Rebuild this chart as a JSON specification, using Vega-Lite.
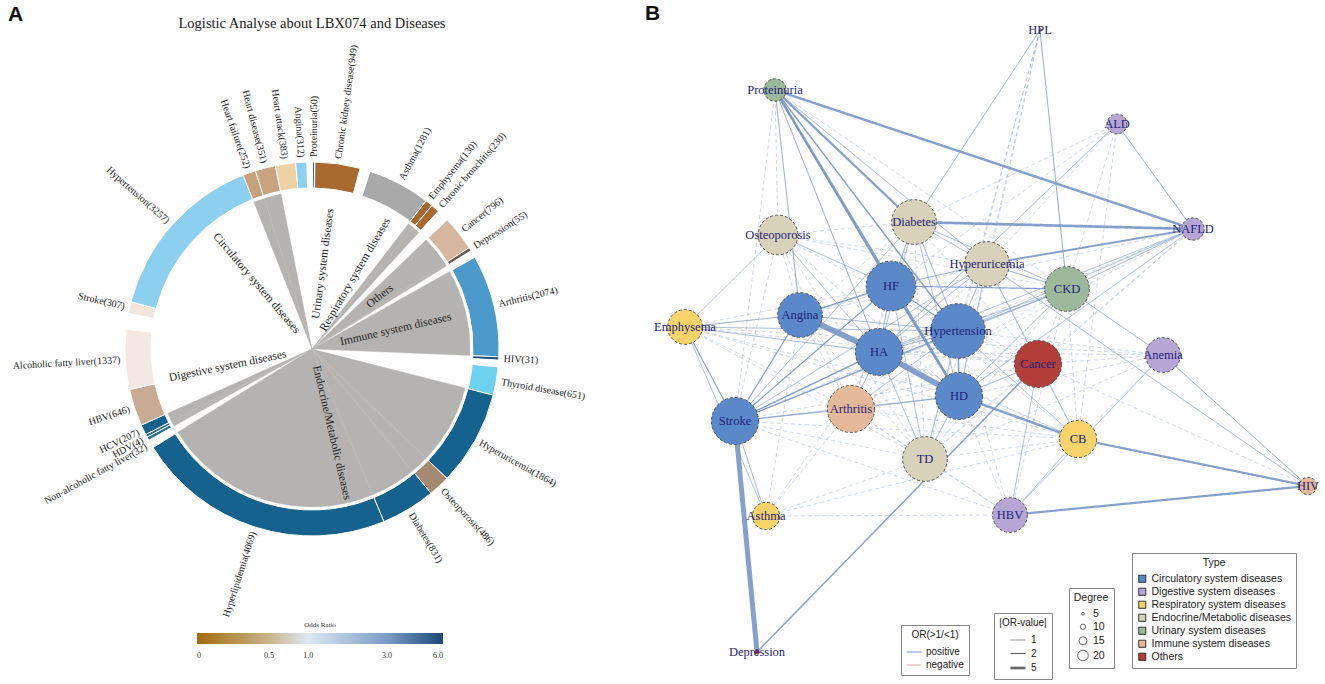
{
  "$schema": "https://vega.github.io/schema/vega-lite/v6.json",
  "padding": {"left": 5, "right": 5, "top": 3, "bottom": 5},
  "spacing": 20,
  "title": {"text": "A", "anchor": "start", "font": "Liberation Sans", "fontSize": 21, "fontWeight": "bold", "color": "#111", "offset": -22, "dx": 3},
  "resolve": {
    "scale": {"fill": "independent", "color": "independent", "stroke": "independent", "strokeWidth": "independent", "strokeDash": "independent", "size": "independent", "theta": "independent", "opacity": "independent"},
    "legend": {"fill": "independent", "color": "independent", "stroke": "independent", "strokeWidth": "independent", "strokeDash": "independent", "size": "independent", "opacity": "independent"}
  },
  "datasets": {
    "diseases": [
      {"name": "Stroke", "n": 307, "cat": "Circulatory system diseases", "start": 281.0, "end": 284.6, "OR": 1.1, "sig": "no"},
      {"name": "Hypertension", "n": 3257, "cat": "Circulatory system diseases", "start": 284.6, "end": 338.4, "OR": 2.0, "sig": "no"},
      {"name": "Heart failure", "n": 252, "cat": "Circulatory system diseases", "start": 338.4, "end": 342.4, "OR": 0.6, "sig": "yes"},
      {"name": "Heart disease", "n": 351, "cat": "Circulatory system diseases", "start": 342.4, "end": 348.7, "OR": 0.6, "sig": "yes"},
      {"name": "Heart attack", "n": 383, "cat": "Circulatory system diseases", "start": 348.7, "end": 355.0, "OR": 0.8, "sig": "no"},
      {"name": "Angina", "n": 312, "cat": "Circulatory system diseases", "start": 355.0, "end": 358.4, "OR": 2.0, "sig": "no"},
      {"name": "Proteinuria", "n": 50, "cat": "Urinary system diseases", "start": 0.2, "end": 0.8, "OR": 6.0, "sig": "no"},
      {"name": "Chronic kidney disease", "n": 949, "cat": "Urinary system diseases", "start": 0.9, "end": 14.9, "OR": 0.2, "sig": "no"},
      {"name": "Asthma", "n": 1281, "cat": "Respiratory system diseases", "start": 18.1, "end": 37.6, "OR": 1.0, "sig": "no"},
      {"name": "Emphysema", "n": 130, "cat": "Respiratory system diseases", "start": 37.6, "end": 39.9, "OR": 0.2, "sig": "yes"},
      {"name": "Chronic bronchitis", "n": 230, "cat": "Respiratory system diseases", "start": 39.9, "end": 42.5, "OR": 0.2, "sig": "yes"},
      {"name": "Cancer", "n": 796, "cat": "Others", "start": 46.3, "end": 57.2, "OR": 0.6, "sig": "yes"},
      {"name": "Depression", "n": 55, "cat": "Others", "start": 57.2, "end": 58.3, "OR": 0.3, "sig": "yes"},
      {"name": "Arthritis", "n": 2074, "cat": "Immune system diseases", "start": 60.6, "end": 92.4, "OR": 3.0, "sig": "yes"},
      {"name": "HIV", "n": 31, "cat": "Immune system diseases", "start": 92.4, "end": 93.4, "OR": 6.0, "sig": "no"},
      {"name": "Thyroid disease", "n": 651, "cat": "Endocrine/Metabolic diseases", "start": 95.5, "end": 104.3, "OR": 2.0, "sig": "no"},
      {"name": "Hyperuricemia", "n": 1864, "cat": "Endocrine/Metabolic diseases", "start": 104.3, "end": 133.8, "OR": 5.5, "sig": "yes"},
      {"name": "Osteoporosis", "n": 486, "cat": "Endocrine/Metabolic diseases", "start": 133.8, "end": 140.5, "OR": 0.5, "sig": "yes"},
      {"name": "Diabetes", "n": 831, "cat": "Endocrine/Metabolic diseases", "start": 140.5, "end": 157.4, "OR": 5.5, "sig": "yes"},
      {"name": "Hyperlipidemia", "n": 4069, "cat": "Endocrine/Metabolic diseases", "start": 157.4, "end": 238.2, "OR": 5.5, "sig": "yes"},
      {"name": "Non-alcoholic fatty liver", "n": 32, "cat": "Digestive system diseases", "start": 240.8, "end": 241.9, "OR": 5.5, "sig": "yes"},
      {"name": "HDV", "n": 4, "cat": "Digestive system diseases", "start": 241.9, "end": 242.8, "OR": 5.5, "sig": "yes"},
      {"name": "HCV", "n": 207, "cat": "Digestive system diseases", "start": 242.8, "end": 246.0, "OR": 5.5, "sig": "yes"},
      {"name": "HBV", "n": 646, "cat": "Digestive system diseases", "start": 246.0, "end": 257.5, "OR": 0.7, "sig": "no"},
      {"name": "Alcoholic fatty liver", "n": 1337, "cat": "Digestive system diseases", "start": 257.5, "end": 276.0, "OR": 0.95, "sig": "no"}
    ],
    "nodes": [
      {"id": "HPL", "x": 1040, "y": 28, "type": "Endocrine/Metabolic diseases", "deg": 1},
      {"id": "Proteinuria", "x": 775, "y": 88, "type": "Urinary system diseases", "deg": 9},
      {"id": "ALD", "x": 1117, "y": 122, "type": "Digestive system diseases", "deg": 8},
      {"id": "NAFLD", "x": 1193, "y": 227, "type": "Digestive system diseases", "deg": 9},
      {"id": "Diabetes", "x": 914, "y": 220, "type": "Endocrine/Metabolic diseases", "deg": 18},
      {"id": "Osteoporosis", "x": 778, "y": 233, "type": "Endocrine/Metabolic diseases", "deg": 16},
      {"id": "Hyperuricemia", "x": 987, "y": 262, "type": "Endocrine/Metabolic diseases", "deg": 18},
      {"id": "CKD", "x": 1067, "y": 287, "type": "Urinary system diseases", "deg": 18},
      {"id": "HF", "x": 891, "y": 284, "type": "Circulatory system diseases", "deg": 20},
      {"id": "Angina", "x": 800, "y": 313, "type": "Circulatory system diseases", "deg": 18},
      {"id": "Emphysema", "x": 685, "y": 325, "type": "Respiratory system diseases", "deg": 14},
      {"id": "Hypertension", "x": 958, "y": 329, "type": "Circulatory system diseases", "deg": 22},
      {"id": "HA", "x": 879, "y": 350, "type": "Circulatory system diseases", "deg": 19},
      {"id": "Cancer", "x": 1038, "y": 362, "type": "Others", "deg": 19},
      {"id": "Anemia", "x": 1163, "y": 353, "type": "Digestive system diseases", "deg": 14},
      {"id": "HD", "x": 959, "y": 394, "type": "Circulatory system diseases", "deg": 19},
      {"id": "Stroke", "x": 735, "y": 419, "type": "Circulatory system diseases", "deg": 19},
      {"id": "Arthritis", "x": 851, "y": 407, "type": "Immune system diseases", "deg": 19},
      {"id": "TD", "x": 925, "y": 457, "type": "Endocrine/Metabolic diseases", "deg": 18},
      {"id": "CB", "x": 1078, "y": 437, "type": "Respiratory system diseases", "deg": 15},
      {"id": "HBV", "x": 1010, "y": 513, "type": "Digestive system diseases", "deg": 14},
      {"id": "Asthma", "x": 766, "y": 514, "type": "Respiratory system diseases", "deg": 11},
      {"id": "HIV", "x": 1308, "y": 484, "type": "Immune system diseases", "deg": 7},
      {"id": "Depression", "x": 757, "y": 650, "type": "Others", "deg": 2}
    ],
    "edges": [
      {"s": "HPL", "t": "Hyperuricemia", "w": 1, "sig": "no", "sign": "positive"},
      {"s": "HPL", "t": "HD", "w": 1, "sig": "no", "sign": "positive"},
      {"s": "HPL", "t": "TD", "w": 1, "sig": "no", "sign": "positive"},
      {"s": "HPL", "t": "Hypertension", "w": 1, "sig": "no", "sign": "positive"},
      {"s": "ALD", "t": "HF", "w": 1, "sig": "no", "sign": "positive"},
      {"s": "ALD", "t": "CB", "w": 1, "sig": "no", "sign": "positive"},
      {"s": "ALD", "t": "Diabetes", "w": 1, "sig": "no", "sign": "positive"},
      {"s": "ALD", "t": "Hyperuricemia", "w": 1, "sig": "no", "sign": "positive"},
      {"s": "ALD", "t": "CKD", "w": 1, "sig": "no", "sign": "positive"},
      {"s": "NAFLD", "t": "Cancer", "w": 1, "sig": "no", "sign": "positive"},
      {"s": "NAFLD", "t": "Stroke", "w": 1, "sig": "no", "sign": "positive"},
      {"s": "NAFLD", "t": "TD", "w": 1, "sig": "no", "sign": "positive"},
      {"s": "NAFLD", "t": "Arthritis", "w": 1, "sig": "no", "sign": "positive"},
      {"s": "NAFLD", "t": "Angina", "w": 1, "sig": "no", "sign": "positive"},
      {"s": "Emphysema", "t": "HF", "w": 1, "sig": "no", "sign": "positive"},
      {"s": "Emphysema", "t": "Arthritis", "w": 1, "sig": "no", "sign": "positive"},
      {"s": "Emphysema", "t": "TD", "w": 1, "sig": "no", "sign": "positive"},
      {"s": "Emphysema", "t": "CB", "w": 1, "sig": "no", "sign": "positive"},
      {"s": "Emphysema", "t": "HD", "w": 1, "sig": "no", "sign": "positive"},
      {"s": "Emphysema", "t": "Cancer", "w": 1, "sig": "no", "sign": "positive"},
      {"s": "Emphysema", "t": "Anemia", "w": 1, "sig": "no", "sign": "positive"},
      {"s": "Osteoporosis", "t": "Stroke", "w": 1, "sig": "no", "sign": "positive"},
      {"s": "Osteoporosis", "t": "Angina", "w": 1, "sig": "no", "sign": "positive"},
      {"s": "Osteoporosis", "t": "Hypertension", "w": 1, "sig": "no", "sign": "positive"},
      {"s": "Osteoporosis", "t": "Arthritis", "w": 1, "sig": "no", "sign": "positive"},
      {"s": "Osteoporosis", "t": "CKD", "w": 1, "sig": "no", "sign": "positive"},
      {"s": "Osteoporosis", "t": "TD", "w": 1, "sig": "no", "sign": "positive"},
      {"s": "Osteoporosis", "t": "Hyperuricemia", "w": 1, "sig": "no", "sign": "positive"},
      {"s": "Osteoporosis", "t": "Diabetes", "w": 1, "sig": "no", "sign": "positive"},
      {"s": "Osteoporosis", "t": "HD", "w": 1, "sig": "no", "sign": "positive"},
      {"s": "Diabetes", "t": "Angina", "w": 1, "sig": "no", "sign": "positive"},
      {"s": "Diabetes", "t": "TD", "w": 1, "sig": "no", "sign": "positive"},
      {"s": "Diabetes", "t": "Cancer", "w": 1, "sig": "no", "sign": "positive"},
      {"s": "Diabetes", "t": "Arthritis", "w": 1, "sig": "no", "sign": "positive"},
      {"s": "Hyperuricemia", "t": "Angina", "w": 1, "sig": "no", "sign": "positive"},
      {"s": "Hyperuricemia", "t": "Arthritis", "w": 1, "sig": "no", "sign": "positive"},
      {"s": "Hyperuricemia", "t": "TD", "w": 1, "sig": "no", "sign": "positive"},
      {"s": "Hyperuricemia", "t": "Cancer", "w": 1, "sig": "no", "sign": "positive"},
      {"s": "CKD", "t": "CB", "w": 1, "sig": "no", "sign": "positive"},
      {"s": "CKD", "t": "Cancer", "w": 1, "sig": "no", "sign": "positive"},
      {"s": "CKD", "t": "TD", "w": 1, "sig": "no", "sign": "positive"},
      {"s": "CKD", "t": "Arthritis", "w": 1, "sig": "no", "sign": "positive"},
      {"s": "CKD", "t": "HBV", "w": 1, "sig": "no", "sign": "positive"},
      {"s": "HF", "t": "Arthritis", "w": 1, "sig": "no", "sign": "positive"},
      {"s": "HF", "t": "Cancer", "w": 1, "sig": "no", "sign": "positive"},
      {"s": "HF", "t": "CB", "w": 1, "sig": "no", "sign": "positive"},
      {"s": "Angina", "t": "Arthritis", "w": 1, "sig": "no", "sign": "positive"},
      {"s": "Angina", "t": "TD", "w": 1, "sig": "no", "sign": "positive"},
      {"s": "Angina", "t": "Cancer", "w": 1, "sig": "no", "sign": "positive"},
      {"s": "Angina", "t": "CB", "w": 1, "sig": "no", "sign": "positive"},
      {"s": "Angina", "t": "Asthma", "w": 1, "sig": "no", "sign": "positive"},
      {"s": "Hypertension", "t": "Cancer", "w": 1, "sig": "no", "sign": "positive"},
      {"s": "Hypertension", "t": "Anemia", "w": 1, "sig": "no", "sign": "positive"},
      {"s": "Hypertension", "t": "HBV", "w": 1, "sig": "no", "sign": "positive"},
      {"s": "HA", "t": "Cancer", "w": 1, "sig": "no", "sign": "positive"},
      {"s": "HA", "t": "CB", "w": 1, "sig": "no", "sign": "positive"},
      {"s": "HA", "t": "Asthma", "w": 1, "sig": "no", "sign": "positive"},
      {"s": "HA", "t": "Anemia", "w": 1, "sig": "no", "sign": "positive"},
      {"s": "HD", "t": "Anemia", "w": 1, "sig": "no", "sign": "positive"},
      {"s": "HD", "t": "HBV", "w": 1, "sig": "no", "sign": "positive"},
      {"s": "Stroke", "t": "TD", "w": 1, "sig": "no", "sign": "positive"},
      {"s": "Stroke", "t": "Cancer", "w": 1, "sig": "no", "sign": "positive"},
      {"s": "Stroke", "t": "CB", "w": 1, "sig": "no", "sign": "positive"},
      {"s": "Stroke", "t": "HBV", "w": 1, "sig": "no", "sign": "positive"},
      {"s": "Arthritis", "t": "TD", "w": 1, "sig": "no", "sign": "positive"},
      {"s": "Arthritis", "t": "CB", "w": 1, "sig": "no", "sign": "positive"},
      {"s": "Arthritis", "t": "HBV", "w": 1, "sig": "no", "sign": "positive"},
      {"s": "Arthritis", "t": "Asthma", "w": 1, "sig": "no", "sign": "positive"},
      {"s": "Arthritis", "t": "Cancer", "w": 1, "sig": "no", "sign": "positive"},
      {"s": "TD", "t": "Cancer", "w": 1, "sig": "no", "sign": "positive"},
      {"s": "TD", "t": "CB", "w": 1, "sig": "no", "sign": "positive"},
      {"s": "TD", "t": "HBV", "w": 1, "sig": "no", "sign": "positive"},
      {"s": "TD", "t": "Asthma", "w": 1, "sig": "no", "sign": "positive"},
      {"s": "TD", "t": "Anemia", "w": 1, "sig": "no", "sign": "positive"},
      {"s": "Cancer", "t": "Anemia", "w": 1, "sig": "no", "sign": "positive"},
      {"s": "Cancer", "t": "CB", "w": 1, "sig": "no", "sign": "positive"},
      {"s": "Cancer", "t": "HIV", "w": 1, "sig": "no", "sign": "positive"},
      {"s": "Anemia", "t": "CB", "w": 1, "sig": "no", "sign": "positive"},
      {"s": "Asthma", "t": "HBV", "w": 1, "sig": "no", "sign": "positive"},
      {"s": "Asthma", "t": "CB", "w": 1, "sig": "no", "sign": "positive"},
      {"s": "Proteinuria", "t": "Stroke", "w": 1, "sig": "no", "sign": "positive"},
      {"s": "Proteinuria", "t": "CKD", "w": 1, "sig": "no", "sign": "positive"},
      {"s": "Proteinuria", "t": "Osteoporosis", "w": 1, "sig": "no", "sign": "positive"},
      {"s": "Angina", "t": "HA", "w": 11, "sig": "yes", "sign": "positive"},
      {"s": "HA", "t": "HD", "w": 11, "sig": "yes", "sign": "positive"},
      {"s": "Stroke", "t": "Depression", "w": 9.5, "sig": "yes", "sign": "positive"},
      {"s": "Diabetes", "t": "NAFLD", "w": 5, "sig": "yes", "sign": "positive"},
      {"s": "Proteinuria", "t": "NAFLD", "w": 4.5, "sig": "yes", "sign": "positive"},
      {"s": "Proteinuria", "t": "HD", "w": 4.5, "sig": "yes", "sign": "positive"},
      {"s": "Proteinuria", "t": "Diabetes", "w": 4, "sig": "yes", "sign": "positive"},
      {"s": "HD", "t": "CB", "w": 4.5, "sig": "yes", "sign": "positive"},
      {"s": "CB", "t": "HIV", "w": 4, "sig": "yes", "sign": "positive"},
      {"s": "HBV", "t": "HIV", "w": 4, "sig": "yes", "sign": "positive"},
      {"s": "Hyperuricemia", "t": "NAFLD", "w": 3.5, "sig": "yes", "sign": "positive"},
      {"s": "HF", "t": "HD", "w": 3.5, "sig": "yes", "sign": "positive"},
      {"s": "Depression", "t": "Cancer", "w": 2.5, "sig": "yes", "sign": "positive"},
      {"s": "Proteinuria", "t": "HF", "w": 3, "sig": "yes", "sign": "positive"},
      {"s": "Proteinuria", "t": "Hypertension", "w": 2.5, "sig": "yes", "sign": "positive"},
      {"s": "HF", "t": "Angina", "w": 2.5, "sig": "yes", "sign": "positive"},
      {"s": "HF", "t": "Hypertension", "w": 2, "sig": "yes", "sign": "positive"},
      {"s": "Hypertension", "t": "HD", "w": 2.5, "sig": "yes", "sign": "positive"},
      {"s": "Stroke", "t": "HA", "w": 2.5, "sig": "yes", "sign": "positive"},
      {"s": "Stroke", "t": "HF", "w": 2, "sig": "yes", "sign": "positive"},
      {"s": "Stroke", "t": "Angina", "w": 2, "sig": "yes", "sign": "positive"},
      {"s": "Stroke", "t": "Hypertension", "w": 1.8, "sig": "yes", "sign": "positive"},
      {"s": "HF", "t": "CKD", "w": 2, "sig": "yes", "sign": "positive"},
      {"s": "Anemia", "t": "HIV", "w": 1.5, "sig": "yes", "sign": "positive"},
      {"s": "Hyperuricemia", "t": "HIV", "w": 1.2, "sig": "yes", "sign": "positive"},
      {"s": "ALD", "t": "NAFLD", "w": 1.5, "sig": "yes", "sign": "positive"},
      {"s": "HPL", "t": "Diabetes", "w": 1.2, "sig": "yes", "sign": "positive"},
      {"s": "HPL", "t": "CKD", "w": 1.5, "sig": "yes", "sign": "positive"},
      {"s": "ALD", "t": "HA", "w": 1.2, "sig": "yes", "sign": "positive"},
      {"s": "NAFLD", "t": "CKD", "w": 1.2, "sig": "yes", "sign": "positive"},
      {"s": "NAFLD", "t": "Hypertension", "w": 1, "sig": "yes", "sign": "positive"},
      {"s": "NAFLD", "t": "HA", "w": 1, "sig": "yes", "sign": "positive"},
      {"s": "NAFLD", "t": "HD", "w": 1, "sig": "yes", "sign": "positive"},
      {"s": "Emphysema", "t": "Angina", "w": 1.5, "sig": "yes", "sign": "positive"},
      {"s": "Emphysema", "t": "HA", "w": 1.2, "sig": "yes", "sign": "positive"},
      {"s": "Emphysema", "t": "Hypertension", "w": 1, "sig": "yes", "sign": "positive"},
      {"s": "Emphysema", "t": "Stroke", "w": 1.8, "sig": "yes", "sign": "positive"},
      {"s": "Emphysema", "t": "Osteoporosis", "w": 1, "sig": "yes", "sign": "positive"},
      {"s": "Emphysema", "t": "Asthma", "w": 1, "sig": "yes", "sign": "positive"},
      {"s": "Osteoporosis", "t": "HA", "w": 1, "sig": "yes", "sign": "positive"},
      {"s": "Osteoporosis", "t": "HF", "w": 1, "sig": "yes", "sign": "positive"},
      {"s": "Diabetes", "t": "HF", "w": 1.2, "sig": "yes", "sign": "positive"},
      {"s": "Diabetes", "t": "Hypertension", "w": 1.2, "sig": "yes", "sign": "positive"},
      {"s": "Diabetes", "t": "HA", "w": 1, "sig": "yes", "sign": "positive"},
      {"s": "Diabetes", "t": "HD", "w": 1, "sig": "yes", "sign": "positive"},
      {"s": "Diabetes", "t": "CKD", "w": 1.2, "sig": "yes", "sign": "positive"},
      {"s": "Diabetes", "t": "Stroke", "w": 1, "sig": "yes", "sign": "positive"},
      {"s": "Diabetes", "t": "Hyperuricemia", "w": 1, "sig": "yes", "sign": "positive"},
      {"s": "Hyperuricemia", "t": "HF", "w": 1.5, "sig": "yes", "sign": "positive"},
      {"s": "Hyperuricemia", "t": "Hypertension", "w": 1.2, "sig": "yes", "sign": "positive"},
      {"s": "Hyperuricemia", "t": "CKD", "w": 1.5, "sig": "yes", "sign": "positive"},
      {"s": "Hyperuricemia", "t": "HD", "w": 1, "sig": "yes", "sign": "positive"},
      {"s": "Hyperuricemia", "t": "HA", "w": 1, "sig": "yes", "sign": "positive"},
      {"s": "Hyperuricemia", "t": "Stroke", "w": 1, "sig": "yes", "sign": "positive"},
      {"s": "Hyperuricemia", "t": "CB", "w": 1, "sig": "yes", "sign": "positive"},
      {"s": "CKD", "t": "Hypertension", "w": 1.5, "sig": "yes", "sign": "positive"},
      {"s": "CKD", "t": "HA", "w": 1, "sig": "yes", "sign": "positive"},
      {"s": "CKD", "t": "HD", "w": 1.2, "sig": "yes", "sign": "positive"},
      {"s": "CKD", "t": "Stroke", "w": 1, "sig": "yes", "sign": "positive"},
      {"s": "CKD", "t": "Anemia", "w": 1.2, "sig": "yes", "sign": "positive"},
      {"s": "HF", "t": "HA", "w": 1.5, "sig": "yes", "sign": "positive"},
      {"s": "HF", "t": "TD", "w": 1, "sig": "yes", "sign": "positive"},
      {"s": "Angina", "t": "Hypertension", "w": 1.2, "sig": "yes", "sign": "positive"},
      {"s": "Angina", "t": "HD", "w": 1.2, "sig": "yes", "sign": "positive"},
      {"s": "Hypertension", "t": "HA", "w": 1.5, "sig": "yes", "sign": "positive"},
      {"s": "Hypertension", "t": "Arthritis", "w": 1, "sig": "yes", "sign": "positive"},
      {"s": "Hypertension", "t": "TD", "w": 1, "sig": "yes", "sign": "positive"},
      {"s": "Hypertension", "t": "CB", "w": 1, "sig": "yes", "sign": "positive"},
      {"s": "HA", "t": "Arthritis", "w": 1, "sig": "yes", "sign": "positive"},
      {"s": "HA", "t": "TD", "w": 1, "sig": "yes", "sign": "positive"},
      {"s": "HD", "t": "Cancer", "w": 1.2, "sig": "yes", "sign": "positive"},
      {"s": "HD", "t": "Arthritis", "w": 1, "sig": "yes", "sign": "positive"},
      {"s": "HD", "t": "TD", "w": 1.2, "sig": "yes", "sign": "positive"},
      {"s": "HD", "t": "Stroke", "w": 1.2, "sig": "yes", "sign": "positive"},
      {"s": "Stroke", "t": "Arthritis", "w": 1.2, "sig": "yes", "sign": "positive"},
      {"s": "Stroke", "t": "Asthma", "w": 1.2, "sig": "yes", "sign": "positive"},
      {"s": "Cancer", "t": "HBV", "w": 1, "sig": "yes", "sign": "positive"},
      {"s": "Anemia", "t": "HBV", "w": 1, "sig": "yes", "sign": "positive"},
      {"s": "CB", "t": "HBV", "w": 1, "sig": "yes", "sign": "positive"},
      {"s": "Proteinuria", "t": "Angina", "w": 1.5, "sig": "yes", "sign": "positive"},
      {"s": "Proteinuria", "t": "HA", "w": 1.5, "sig": "yes", "sign": "positive"},
      {"s": "Proteinuria", "t": "Hyperuricemia", "w": 1.2, "sig": "yes", "sign": "positive"}
    ]
  },
  "hconcat": [
    {
      "width": 614,
      "height": 606,
      "title": {"text": "Logistic Analyse about LBX074 and Diseases", "font": "Liberation Serif", "fontSize": 14.5, "fontWeight": "normal", "color": "#222", "anchor": "middle", "frame": "group", "offset": 13},
      "data": {"name": "diseases"},
      "transform": [
        {"calculate": "(datum.start + datum.end) / 2", "as": "mid"},
        {"calculate": "datum.mid < 180 ? datum.mid - 90 : datum.mid - 270", "as": "labAngle"},
        {"calculate": "datum.name + '(' + datum.n + ')'", "as": "label"}
      ],
      "layer": [
        {
          "transform": [{"filter": "datum.sig == 'yes'"}],
          "mark": {"type": "arc", "innerRadius": 0, "outerRadius": 158, "fill": "#b5b3b1", "stroke": "#b5b3b1", "strokeWidth": 0.3},
          "encoding": {
            "theta": {"field": "start", "type": "quantitative", "scale": {"domain": [0, 360]}},
            "theta2": {"field": "end"}
          }
        },
        {
          "mark": {"type": "arc", "innerRadius": 161, "outerRadius": 187, "stroke": "white", "strokeWidth": 1},
          "encoding": {
            "theta": {"field": "start", "type": "quantitative", "scale": {"domain": [0, 360]}},
            "theta2": {"field": "end"},
            "fill": {
              "field": "name", "type": "nominal", "legend": null,
              "scale": {
                "domain": ["Stroke", "Hypertension", "Heart failure", "Heart disease", "Heart attack", "Angina", "Proteinuria", "Chronic kidney disease", "Asthma", "Emphysema", "Chronic bronchitis", "Cancer", "Depression", "Arthritis", "HIV", "Thyroid disease", "Hyperuricemia", "Osteoporosis", "Diabetes", "Hyperlipidemia", "Non-alcoholic fatty liver", "HDV", "HCV", "HBV", "Alcoholic fatty liver"],
                "range": ["#f3e5dc", "#8ccfee", "#c8a07c", "#c9a380", "#efd2a3", "#8ccfee", "#174f7c", "#a86a2f", "#a9a9a9", "#a5672c", "#a86a2f", "#d6b69e", "#6e5a47", "#4b9acb", "#1f4d77", "#6dd2f0", "#15628e", "#a38a71", "#15628e", "#15628e", "#2a6e96", "#2a6e96", "#15628e", "#c9ab94", "#f4e9e2"]
              }
            }
          }
        },
        {
          "mark": {"type": "text", "text": ""},
          "encoding": {
            "color": {
              "field": "OR", "type": "quantitative",
              "scale": {"type": "symlog", "constant": 0.4, "domain": [0, 0.5, 1, 3, 6], "range": ["#a36b0e", "#c8b38a", "#dce8f2", "#7b9cc5", "#1c4878"], "interpolate": "rgb"},
              "legend": {"title": "Odds Ratio", "orient": "none", "legendX": 192, "legendY": 575, "direction": "horizontal", "gradientLength": 246, "gradientThickness": 11, "gradientStrokeWidth": 0, "titleFont": "Liberation Serif", "titleFontSize": 7, "titleFontWeight": "normal", "titleAnchor": "middle", "titleColor": "#333", "labelFont": "Liberation Serif", "labelFontSize": 8, "labelColor": "#333", "values": [0, 0.5, 1, 3, 6], "labelExpr": "datum.value == 0 ? '0' : format(datum.value, '.1f')", "labelOverlap": false, "labelOffset": 8, "padding": 0}
            }
          }
        },
        {
          "mark": {"type": "text", "radius": 192, "font": "Liberation Serif", "fontSize": 10, "color": "#222", "baseline": "middle",
            "align": {"expr": "datum.mid < 180 ? 'left' : 'right'"},
            "dy": {"expr": "datum.name == 'Non-alcoholic fatty liver' ? 6 : datum.name == 'HDV' ? 2 : datum.name == 'Chronic bronchitis' ? 3 : datum.name == 'Emphysema' ? -2 : 0"}},
          "encoding": {
            "theta": {"field": "mid", "type": "quantitative", "scale": {"domain": [0, 360]}},
            "angle": {"field": "labAngle", "type": "quantitative", "scale": null},
            "text": {"field": "label"}
          }
        },
        {
          "transform": [
            {"aggregate": [{"op": "min", "field": "start", "as": "cs"}, {"op": "max", "field": "end", "as": "ce"}], "groupby": ["cat"]},
            {"calculate": "(datum.cs + datum.ce) / 2", "as": "cmid"},
            {"calculate": "datum.cmid < 180 ? datum.cmid - 90 : datum.cmid - 270", "as": "cAngle"}
          ],
          "mark": {"type": "text", "radius": 86, "font": "Liberation Serif", "fontSize": 11.5, "color": "#222", "align": "center", "baseline": "middle"},
          "encoding": {
            "theta": {"field": "cmid", "type": "quantitative", "scale": {"domain": [0, 360]}},
            "angle": {"field": "cAngle", "type": "quantitative", "scale": null},
            "text": {"field": "cat"}
          }
        }
      ]
    },
    {
      "width": 681,
      "height": 635,
      "title": {"text": "B", "anchor": "start", "font": "Liberation Sans", "fontSize": 21, "fontWeight": "bold", "color": "#111", "frame": "group", "offset": 0, "dx": 6},
      "resolve": {"scale": {"size": "independent"}},
      "layer": [
        {
          "data": {"name": "edges"},
          "transform": [
            {"lookup": "s", "from": {"data": {"name": "nodes"}, "key": "id", "fields": ["x", "y"]}, "as": ["sx", "sy"]},
            {"lookup": "t", "from": {"data": {"name": "nodes"}, "key": "id", "fields": ["x", "y"]}, "as": ["tx", "ty"]}
          ],
          "mark": {"type": "rule"},
          "encoding": {
            "x": {"field": "sx", "type": "quantitative", "scale": {"domain": [639, 1320], "nice": false}, "axis": null},
            "y": {"field": "sy", "type": "quantitative", "scale": {"domain": [44, 679], "nice": false, "reverse": true}, "axis": null},
            "x2": {"field": "tx"},
            "y2": {"field": "ty"},
            "stroke": {"field": "sign", "type": "nominal", "scale": {"domain": ["positive", "negative"], "range": ["#7896c6", "#d8a3aa"]},
              "legend": {"title": "OR(>1/<1)", "orient": "none", "legendX": 262, "legendY": 579, "symbolType": "stroke", "symbolSize": 225, "symbolStrokeWidth": 1, "strokeColor": "#888", "fillColor": "white", "padding": 5, "titleFont": "Liberation Sans", "titleFontSize": 10, "titleFontWeight": "normal", "titleAnchor": "middle", "titleColor": "#222", "labelFont": "Liberation Sans", "labelFontSize": 10, "labelColor": "#222", "rowPadding": 0, "titlePadding": 4}},
            "strokeWidth": {"field": "w", "type": "quantitative", "scale": {"domain": [0, 12], "range": [0.2, 6.2]},
              "legend": {"title": "|OR-value|", "orient": "none", "legendX": 355, "legendY": 567, "values": [1, 2, 5], "symbolType": "stroke", "symbolSize": 225, "symbolStrokeColor": "#666", "strokeColor": "#888", "fillColor": "white", "padding": 5, "titleFont": "Liberation Sans", "titleFontSize": 10, "titleFontWeight": "normal", "titleAnchor": "middle", "titleColor": "#222", "labelFont": "Liberation Sans", "labelFontSize": 10, "labelColor": "#222", "rowPadding": 0, "titlePadding": 4}},
            "strokeDash": {"field": "sig", "type": "nominal", "scale": {"domain": ["yes", "no"], "range": [[1, 0], [4, 3]]}, "legend": null},
            "opacity": {"field": "sig", "type": "nominal", "scale": {"domain": ["yes", "no"], "range": [0.9, 0.55]}, "legend": null},
            "order": {"field": "w", "type": "quantitative"}
          }
        },
        {
          "data": {"name": "nodes"},
          "mark": {"type": "point", "opacity": 0, "filled": false},
          "encoding": {
            "x": {"field": "x", "type": "quantitative", "scale": {"domain": [639, 1320], "nice": false}, "axis": null},
            "y": {"field": "y", "type": "quantitative", "scale": {"domain": [44, 679], "nice": false, "reverse": true}, "axis": null},
            "size": {"field": "deg", "type": "quantitative", "scale": {"type": "pow", "exponent": 2, "domain": [0, 20], "range": [0, 113]},
              "legend": {"title": "Degree", "orient": "none", "legendX": 430, "legendY": 542, "values": [5, 10, 15, 20], "symbolOpacity": 1, "symbolStrokeColor": "#444", "symbolFillColor": "white", "symbolStrokeWidth": 0.8, "strokeColor": "#888", "fillColor": "white", "padding": 5, "titleFont": "Liberation Sans", "titleFontSize": 10.5, "titleFontWeight": "normal", "titleAnchor": "middle", "titleColor": "#222", "labelFont": "Liberation Sans", "labelFontSize": 10.5, "labelColor": "#222", "rowPadding": 2}}
          }
        },
        {
          "data": {"name": "nodes"},
          "mark": {"type": "circle", "opacity": 1, "stroke": "#555", "strokeWidth": 1, "strokeDash": [3, 2]},
          "encoding": {
            "x": {"field": "x", "type": "quantitative", "scale": {"domain": [639, 1320], "nice": false}, "axis": null},
            "y": {"field": "y", "type": "quantitative", "scale": {"domain": [44, 679], "nice": false, "reverse": true}, "axis": null},
            "size": {"field": "deg", "type": "quantitative", "scale": {"type": "pow", "exponent": 2, "domain": [0, 22], "range": [0, 2980]}, "legend": null},
            "fill": {"field": "type", "type": "nominal",
              "scale": {"domain": ["Circulatory system diseases", "Digestive system diseases", "Respiratory system diseases", "Endocrine/Metabolic diseases", "Urinary system diseases", "Immune system diseases", "Others"],
                "range": ["#5b88c8", "#b6a6d5", "#f8d36a", "#d9d2ba", "#9db99b", "#e4b898", "#b23f3a"]},
              "legend": {"title": "Type", "orient": "none", "legendX": 493, "legendY": 507, "symbolType": "square", "symbolSize": 50, "symbolStrokeColor": "#222", "symbolStrokeWidth": 1, "symbolDash": [1, 0], "symbolOpacity": 1, "strokeColor": "#888", "fillColor": "white", "padding": 5, "titleFont": "Liberation Sans", "titleFontSize": 10.5, "titleFontWeight": "normal", "titleAnchor": "middle", "titleColor": "#222", "labelFont": "Liberation Sans", "labelFontSize": 10.5, "labelColor": "#222", "rowPadding": 1, "labelLimit": 250}}
          }
        },
        {
          "data": {"name": "nodes"},
          "mark": {"type": "text", "font": "Liberation Serif", "fontSize": 12.5, "color": "#1f1f7a", "baseline": "middle", "align": "center"},
          "encoding": {
            "x": {"field": "x", "type": "quantitative", "scale": {"domain": [639, 1320], "nice": false}, "axis": null},
            "y": {"field": "y", "type": "quantitative", "scale": {"domain": [44, 679], "nice": false, "reverse": true}, "axis": null},
            "text": {"field": "id"}
          }
        }
      ]
    }
  ],
  "config": {"view": {"stroke": null}, "font": "Liberation Serif"}
}
